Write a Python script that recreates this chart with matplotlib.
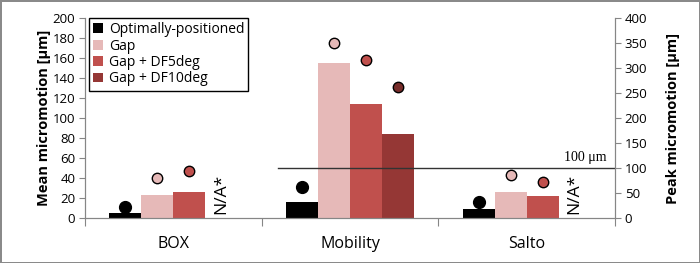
import numpy as np
import matplotlib.pyplot as plt

# data
categories = ['BOX', 'Mobility', 'Salto']
series = ['Optimally-positioned', 'Gap', 'Gap + DF5deg', 'Gap + DF10deg']
colors = ['#000000', '#E6B9B8', '#C0504D', '#953735']
dot_colors = ['#000000', '#E6B9B8', '#C0504D', '#772C2A']

# mean micromotion (left axis), NaN = N/A
mean_opt = [5, 16, 9]
mean_gap = [23, 155, 26]
mean_df5 = [26, 114, 22]
mean_df10 = [np.nan, 84, np.nan]

# peak micromotion (right axis)
peak_opt = [22, 63, 33]
peak_gap = [80, 350, 87]
peak_df5 = [95, 317, 73]
peak_df10 = [np.nan, 263, np.nan]

threshold = 100

means = [mean_opt, mean_gap, mean_df5, mean_df10]
peaks = [peak_opt, peak_gap, peak_df5, peak_df10]

plt.rcParams['font.family'] = ['Open Sans', 'DejaVu Sans']
grey = '#868686'

fig = plt.figure(figsize=(7, 2.63), dpi=100)
fig.patch.set_edgecolor('#8a8a8a')
fig.patch.set_linewidth(2)
ax = fig.add_axes([85/700, 45/263, 530/700, 200/263])
ax2 = ax.twinx()

x = np.arange(len(categories))
w = 0.181
offs = (np.arange(4) - 1.5) * w

for i in range(4):
    ax.bar(x + offs[i], means[i], width=w, color=colors[i], label=series[i], zorder=2)
    ax2.plot(x + offs[i], peaks[i], 'o', ls='none',
             ms=8.5 if i == 0 else 7.5, mfc=dot_colors[i],
             mec='black', mew=1, zorder=3)

# N/A labels where DF10 is missing
for j in range(len(categories)):
    if np.isnan(mean_df10[j]):
        ax.text(x[j] + offs[3], 4, 'N/A*', rotation=90, ha='center', va='bottom',
                fontsize=12.5, zorder=4)

# 100 um threshold on the peak axis
ax2.plot([0.59, 2.5], [threshold, threshold], color='#333333', lw=1, zorder=1)
ax2.text(2.45, threshold + 7, '100 \u03bcm', ha='right', va='bottom',
         family='Liberation Serif', fontsize=10)

ax.set_xlim(-0.5, 2.5)
ax.set_ylim(0, 200)
ax2.set_ylim(0, 400)
ax.set_yticks(np.arange(0, 201, 20))
ax2.set_yticks(np.arange(0, 401, 50))

ax.set_xticks([-0.5, 0.5, 1.5, 2.5])
ax.set_xticklabels([])
ax.set_xticks(x, minor=True)
ax.set_xticklabels(categories, minor=True, fontsize=11.5)
ax.tick_params(axis='x', which='major', length=6, color=grey)
ax.tick_params(axis='x', which='minor', length=0, pad=13)
ax.tick_params(axis='y', length=4, color=grey, labelsize=9.5, pad=3)
ax2.tick_params(axis='y', length=4, color=grey, labelsize=9.5, pad=3)

for a in (ax, ax2):
    a.spines['top'].set_visible(False)
    for s in ('left', 'right', 'bottom'):
        a.spines[s].set_color(grey)

ax.set_ylabel('Mean micromotion [\u00b5m]', fontweight='bold', fontsize=10.5, labelpad=1)
ax2.set_ylabel('Peak micromotion [\u00b5m]', fontweight='bold', fontsize=10.5, labelpad=13)

leg = ax.legend(loc='upper left', bbox_to_anchor=(0.008, 1.0), fontsize=10,
                fancybox=False, edgecolor='black', framealpha=1,
                handlelength=0.7, handleheight=0.7, handletextpad=0.4,
                labelspacing=0.1, borderpad=0.3, borderaxespad=0)
leg.get_frame().set_linewidth(1)
leg.set_zorder(5)

fig.savefig('out.png', dpi=100)
